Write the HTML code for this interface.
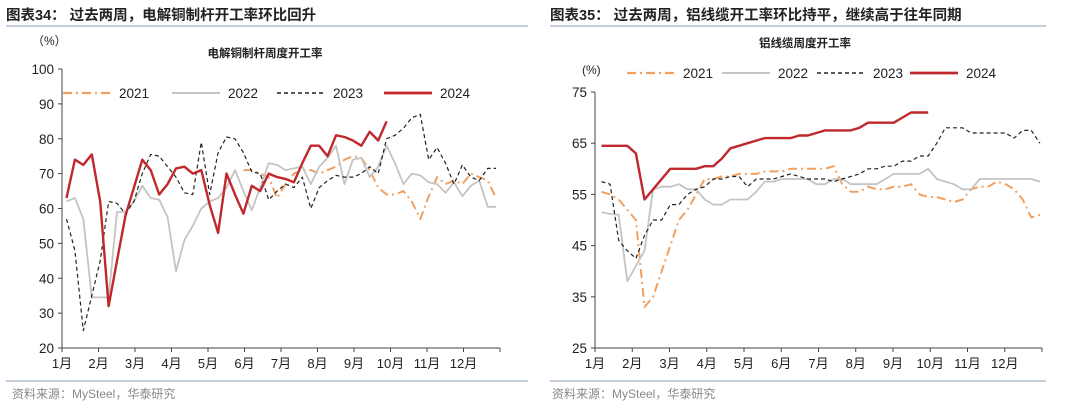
<!DOCTYPE html>
<html><head><meta charset="utf-8">
<style>
body{margin:0;background:#fff;width:1080px;height:406px;overflow:hidden;font-family:"Liberation Sans","Noto Sans CJK SC",sans-serif}
svg text{font-family:"Liberation Sans","Noto Sans CJK SC",sans-serif}
</style></head><body>
<svg id="s" width="1080" height="406">
<text x="6" y="20" font-size="14.5" font-weight="bold" fill="#222">图表34：  过去两周，电解铜制杆开工率环比回升</text>
<line x1="6" y1="26" x2="528" y2="26" stroke="#9fb3c8" stroke-width="1.2"/>
<text x="550" y="20" font-size="14.5" font-weight="bold" fill="#222">图表35：  过去两周，铝线缆开工率环比持平，继续高于往年同期</text>
<line x1="550" y1="26" x2="1046" y2="26" stroke="#9fb3c8" stroke-width="1.2"/>
<text x="265" y="57" font-size="11.5" font-weight="bold" text-anchor="middle" fill="#222">电解铜制杆周度开工率</text>
<text x="805" y="47" font-size="11.5" font-weight="bold" text-anchor="middle" fill="#222">铝线缆周度开工率</text>
<text x="32" y="45" font-size="12" fill="#222">（%）</text>
<text x="582" y="74" font-size="12" fill="#222">(%)</text>
<line x1="6" y1="381" x2="528" y2="381" stroke="#9fb3c8" stroke-width="1.2"/>
<line x1="550" y1="381" x2="1046" y2="381" stroke="#9fb3c8" stroke-width="1.2"/>
<text x="12" y="398" font-size="12" fill="#888">资料来源：MySteel，华泰研究</text>
<text x="552" y="398" font-size="12" fill="#888">资料来源：MySteel，华泰研究</text>
</svg>
<script>
const months=["1月","2月","3月","4月","5月","6月","7月","8月","9月","10月","11月","12月"];
const years=["2021","2022","2023","2024"];
const leftTicks=[20,30,40,50,60,70,80,90,100];
const rightTicks=[25,35,45,55,65,75];
const L2021=[71,71,70,69,63,67,70,71,71,70,71,72,74,75,74.5,71,66,64,64,65,62,57,63.5,69,67,68,67,70,69,68,63];
const L2022=[62,63,57,34.5,34.5,34.5,59,59,62,66.5,63,62.5,57.5,42,51,55,60,62,63,66,71,65,59.5,66,73,72.5,71,71.5,72,67,72,74.5,78,67,74,74.5,69,72,78,73,67,70,69.5,67.5,67,64.5,67.5,63.5,66.5,68,60.5,60.5];
const L2023=[57,48,25,35,45,62,61.5,58.5,62,70,75.5,75,72,69,64.5,64,79,64,76,80.5,80,76,70.5,70,62.5,65,67,66,69,60,66,68,69.5,69,69,70,72,70,80,81,83,86,87,74,77.5,73,67,72.5,69,68,71.5,71.5];
const L2024=[63,74,72.5,75.5,62,32,45,58,66,74,71,64,67,71.5,72,70,71,61,53,70,64,58.5,66.5,65,70,69,68.5,67.5,73,78,78,75,81,80.5,79.5,78,82,79.5,85];
const R2021=[55.5,55,54,52,50,33,35,40,45,50,52,55,58,58,58.5,58.5,59,59,59,59.5,59.5,59.5,60,60,60,60,60,60.5,57,55.5,55.5,56.5,56,56,56.5,56.5,57,55,54.5,54.5,54,53.5,54,56,56.5,56.5,57.5,57,56,54,50.5,51];
const R2022=[51.5,51.2,51,38,41,44,56,56.5,56.5,57,56,56,54,53,53,54,54,54,55.5,57.5,57.5,58,58,58,58,57,57,58,58,57,57,57,57,58,59,59,59,59,60,58,57.5,57,56,56,58,58,58,58,58,58,58,57.5];
const R2023=[57.5,57,46,44,42.5,47,50,50,53,53,55,56,56.5,58,58,58.5,58.5,56.5,58,58,58,58.5,59,58.5,58,58,58,57.5,58,58.5,59,60,60,60.5,60.5,61.5,61.5,62.5,62.5,65,68,68,68,67,67,67,67,67,66,67.5,67.5,65];
const R2024=[64.5,64.5,64.5,64.5,63,54,56,58,60,60,60,60,60.5,60.5,62,64,64.5,65,65.5,66,66,66,66,66.5,66.5,67,67.5,67.5,67.5,67.5,68,69,69,69,69,70,71,71,71];
const NS="http://www.w3.org/2000/svg";
const svg=document.getElementById('s');
const styles={"2021":{c:"#f0a060",w:2,d:"9,4,2,4"},"2022":{c:"#c4c4c4",w:1.8,d:""},"2023":{c:"#222",w:1.2,d:"4,3"},"2024":{c:"#c0282d",w:2.4,d:""}};
function mk(tag,attrs){const e=document.createElementNS(NS,tag);for(const k in attrs)e.setAttribute(k,attrs[k]);svg.appendChild(e);return e;}
function chart(p,ticks,series,starts){
  const y=v=>p.yb-(v-p.min)/(p.max-p.min)*(p.yb-p.yt);
  const x=i=>p.x0+p.off+i*(p.x1-p.x0)/52;
  let ax=mk('line',{x1:p.x0,y1:p.yt,x2:p.x0,y2:p.yb,stroke:"#444","stroke-width":1});
  
  
  let bx=mk('line',{x1:p.x0,y1:p.yb,x2:p.x1,y2:p.yb,stroke:"#444","stroke-width":1});
  
  
  ticks.forEach(t=>{
    mk('line',{x1:p.x0-4,y1:y(t),x2:p.x0,y2:y(t),stroke:"#444"});
    const tx=mk('text',{x:p.x0-8,y:y(t)+5,"font-size":13.5,"text-anchor":"end",fill:"#222"});
    tx.textContent=t;
    
    
  });
  for(let m=0;m<=12;m++){
    const xm=p.x0+m*(p.x1-p.x0)/12;
    mk('line',{x1:xm,y1:p.yb,x2:xm,y2:p.yb+4,stroke:"#444"});
    if(m<12){const tx=mk('text',{x:xm+(m>=9?0:0),y:p.yb+20,"font-size":13,"text-anchor":"middle",fill:"#222"});
    tx.textContent=months[m];
    
    }
  }
  years.forEach((yr,k)=>{
    const s=styles[yr];
    const pts=series[k].map((v,i)=>x(i+starts[k]).toFixed(1)+","+y(v).toFixed(1)).join(" ");
    const pl=mk('polyline',{points:pts,fill:"none",stroke:s.c,"stroke-width":s.w,"stroke-dasharray":s.d,"stroke-linejoin":"round"});
    
    
    const lx=p.lx[k];
    const ls=mk('line',{x1:lx,y1:p.ly,x2:lx+48,y2:p.ly,stroke:s.c,"stroke-width":s.w+0.3,"stroke-dasharray":s.d});
    
    
    const lt=mk('text',{x:lx+56,y:p.ly+5,"font-size":13.5,fill:"#222"});
    lt.textContent=yr;
    
    
  });
}
chart({id:"left",x0:62,x1:500,yt:69,yb:348,min:20,max:100,off:4.5,lx:[63,172,277,384],ly:93},leftTicks,[L2021,L2022,L2023,L2024],[21,0,0,0]);
chart({id:"right",x0:595,x1:1042,yt:92,yb:348,min:25,max:75,off:6.5,lx:[627,722,817,910],ly:73},rightTicks,[R2021,R2022,R2023,R2024],[0,0,0,0]);
</script>
</body></html>
